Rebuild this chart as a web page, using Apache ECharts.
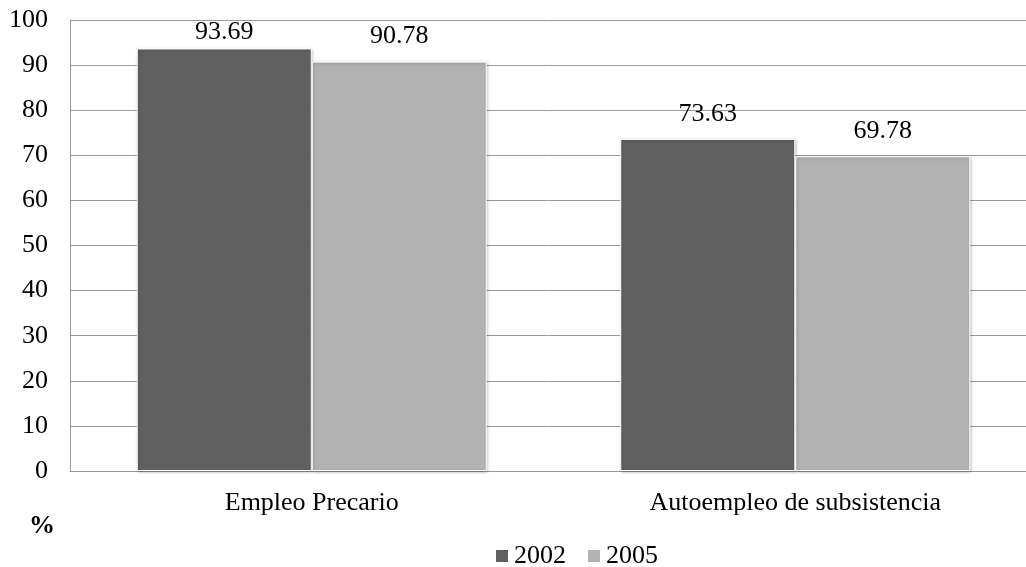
<!DOCTYPE html>
<html>
<head>
<meta charset="utf-8">
<script src="https://cdn.jsdelivr.net/npm/echarts@6/dist/echarts.min.js"></script>
<style>
  html, body { margin: 0; padding: 0; background: #fff; }
  #chart { width: 1026px; height: 567px; }
</style>
</head>
<body>
<div id="chart"></div>
<script>
// Share of employment by type, 2002 vs 2005 (%)
const categories = ['Empleo Precario', 'Autoempleo de subsistencia'];
const seriesNames = ['2002', '2005'];
const values2002 = [93.69, 73.63];
const values2005 = [90.78, 69.78];
const yTicks = { min: 0, max: 100, interval: 10 };

const FONT = '"Liberation Serif", "Times New Roman", serif';
const colors = ['#606060', '#b2b2b2'];
const LABEL_GAP = 12;

function barSeries(name, data, color) {
  return {
    name: name,
    type: 'bar',
    data: data,
    barWidth: 175,
    barGap: '0%',
    itemStyle: {
      color: color,
      borderColor: '#ffffff',
      borderWidth: 1,
      shadowColor: 'rgba(0,0,0,0.25)',
      shadowBlur: 3,
      shadowOffsetX: 1,
      shadowOffsetY: 1
    },
    label: {
      show: true,
      position: 'top',
      distance: LABEL_GAP,
      color: '#000',
      fontFamily: FONT,
      fontSize: 26,
      formatter: p => p.value.toFixed(2)
    },
    emphasis: { disabled: true }
  };
}

const chart = echarts.init(document.getElementById('chart'), null, { renderer: 'canvas' });
chart.setOption({
  animation: false,
  backgroundColor: '#ffffff',
  textStyle: { fontFamily: FONT },
  grid: {
    left: 70, top: 20, width: 967, height: 451,
    containLabel: false,
    outerBoundsMode: 'none'
  },
  legend: {
    data: seriesNames,
    left: 489,
    top: 538,
    itemWidth: 14,
    itemHeight: 14,
    itemGap: 20,
    icon: 'rect',
    textStyle: { fontFamily: FONT, fontSize: 26, color: '#000' }
  },
  xAxis: {
    type: 'category',
    data: categories,
    axisLine: { show: true, lineStyle: { color: '#999999', width: 1 } },
    axisTick: { show: false },
    axisLabel: { color: '#000', fontFamily: FONT, fontSize: 26, margin: 19 }
  },
  yAxis: {
    type: 'value',
    min: yTicks.min,
    max: yTicks.max,
    interval: yTicks.interval,
    axisLine: { show: true, lineStyle: { color: '#999999', width: 1 } },
    axisTick: { show: false },
    splitLine: { show: true, lineStyle: { color: '#999999', width: 1 } },
    axisLabel: { color: '#000', fontFamily: FONT, fontSize: 26, margin: 22 }
  },
  graphic: [{
    type: 'text',
    left: 29,
    top: 513,
    style: { text: '%', font: 'bold 26px ' + FONT, fill: '#000' }
  }],
  series: [
    barSeries(seriesNames[0], values2002, colors[0]),
    barSeries(seriesNames[1], values2005, colors[1])
  ]
});

// Keep value labels inside the plot area: labels of tall bars are pulled down
// toward the bar top when they would otherwise cross the top edge.
const plotTop = chart.convertToPixel({ yAxisIndex: 0 }, yTicks.max);
function fittedData(values) {
  return values.map(v => {
    const room = chart.convertToPixel({ yAxisIndex: 0 }, v) - plotTop;
    const d = Math.min(LABEL_GAP, Math.max(0, room - 25.5));
    return { value: v, label: { distance: d } };
  });
}
chart.setOption({
  series: [
    { data: fittedData(values2002) },
    { data: fittedData(values2005) }
  ]
});
</script>
</body>
</html>
